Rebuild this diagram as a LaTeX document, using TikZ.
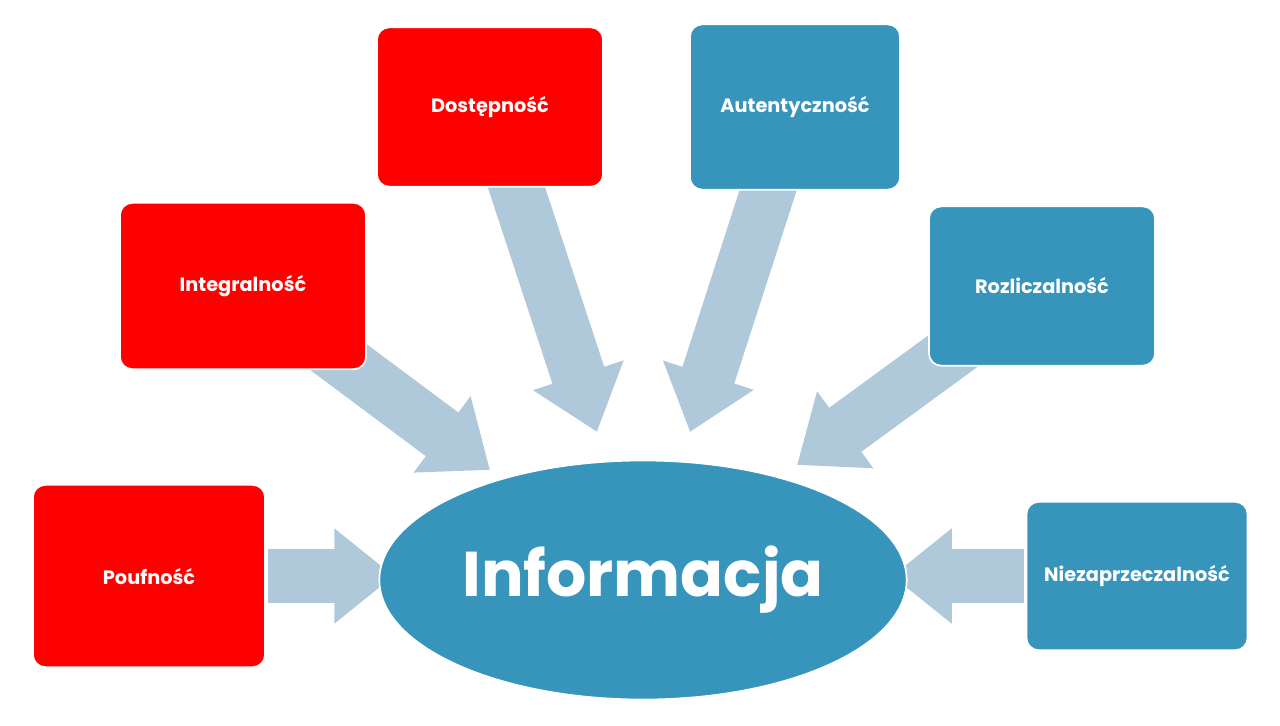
\documentclass[tikz,border=0pt]{standalone}
\usepackage{fontspec}
\setmainfont{Poppins}
\usetikzlibrary{arrows.meta, shapes.geometric}
\definecolor{boxred}{HTML}{FF0000}
\definecolor{boxblue}{HTML}{3795BB}
\definecolor{arrowblue}{HTML}{AFC9DA}
\pgfdeclarelayer{background}
\pgfsetlayers{background,main}

\begin{document}
\begin{tikzpicture}[x=0.02cm, y=-0.02cm,
    box/.style = {draw=white, line width=1pt, rounded corners=7pt, text=white,
                  font=\bfseries\fontsize{11}{13}\selectfont, inner sep=0pt},
    flow/.style = {arrowblue, line width=31pt, line cap=butt,
                   -{Triangle[length=34pt, width=52pt]}}]
  \useasboundingbox (0,0) rectangle (1280,725);
  % boxes
  \node[box, fill=boxred, minimum width=233*0.567pt, minimum height=183*0.567pt] (pouf) at (149,576) {Poufność};
  \node[box, fill=boxred, minimum width=247*0.567pt, minimum height=167*0.567pt] (integ) at (243,286) {Integralność};
  \node[box, fill=boxred, minimum width=227*0.567pt, minimum height=160*0.567pt] (dost) at (490,107) {Dostępność};
  \node[box, fill=boxblue, minimum width=211*0.567pt, minimum height=166*0.567pt] (auten) at (795,107) {Autentyczność};
  \node[box, fill=boxblue, minimum width=227*0.567pt, minimum height=160*0.567pt] (rozl) at (1042,286) {Rozliczalność};
  \node[box, fill=boxblue, minimum width=222*0.567pt, minimum height=149*0.567pt] (niez) at (1137,576) {Niezaprzeczalność};
  % centre
  \node[ellipse, fill=boxblue, draw=white, line width=1pt, minimum width=466*0.567pt,
        minimum height=240*0.567pt, text=white, font=\bfseries\fontsize{36}{40}\selectfont]
        (info) at (643,580) {Informacja};
  % arrow tips
  \coordinate (tpouf) at (394,576);
  \coordinate (tinteg) at (490,470);
  \coordinate (tdost) at (597,432);
  \coordinate (tauten) at (690,432);
  \coordinate (trozl) at (797,465);
  \coordinate (tniez) at (892,576);
  \coordinate (spouf) at (268,576);
  \coordinate (sniez) at (1024,576);
  \begin{pgfonlayer}{background}
    \draw[flow] (spouf) -- (tpouf);
    \draw[flow] (sniez) -- (tniez);
    \draw[flow] (integ.center) -- (tinteg);
    \draw[flow] (dost.center) -- (tdost);
    \draw[flow] (auten.center) -- (tauten);
    \draw[flow] (rozl.center) -- (trozl);
  \end{pgfonlayer}
\end{tikzpicture}
\end{document}
